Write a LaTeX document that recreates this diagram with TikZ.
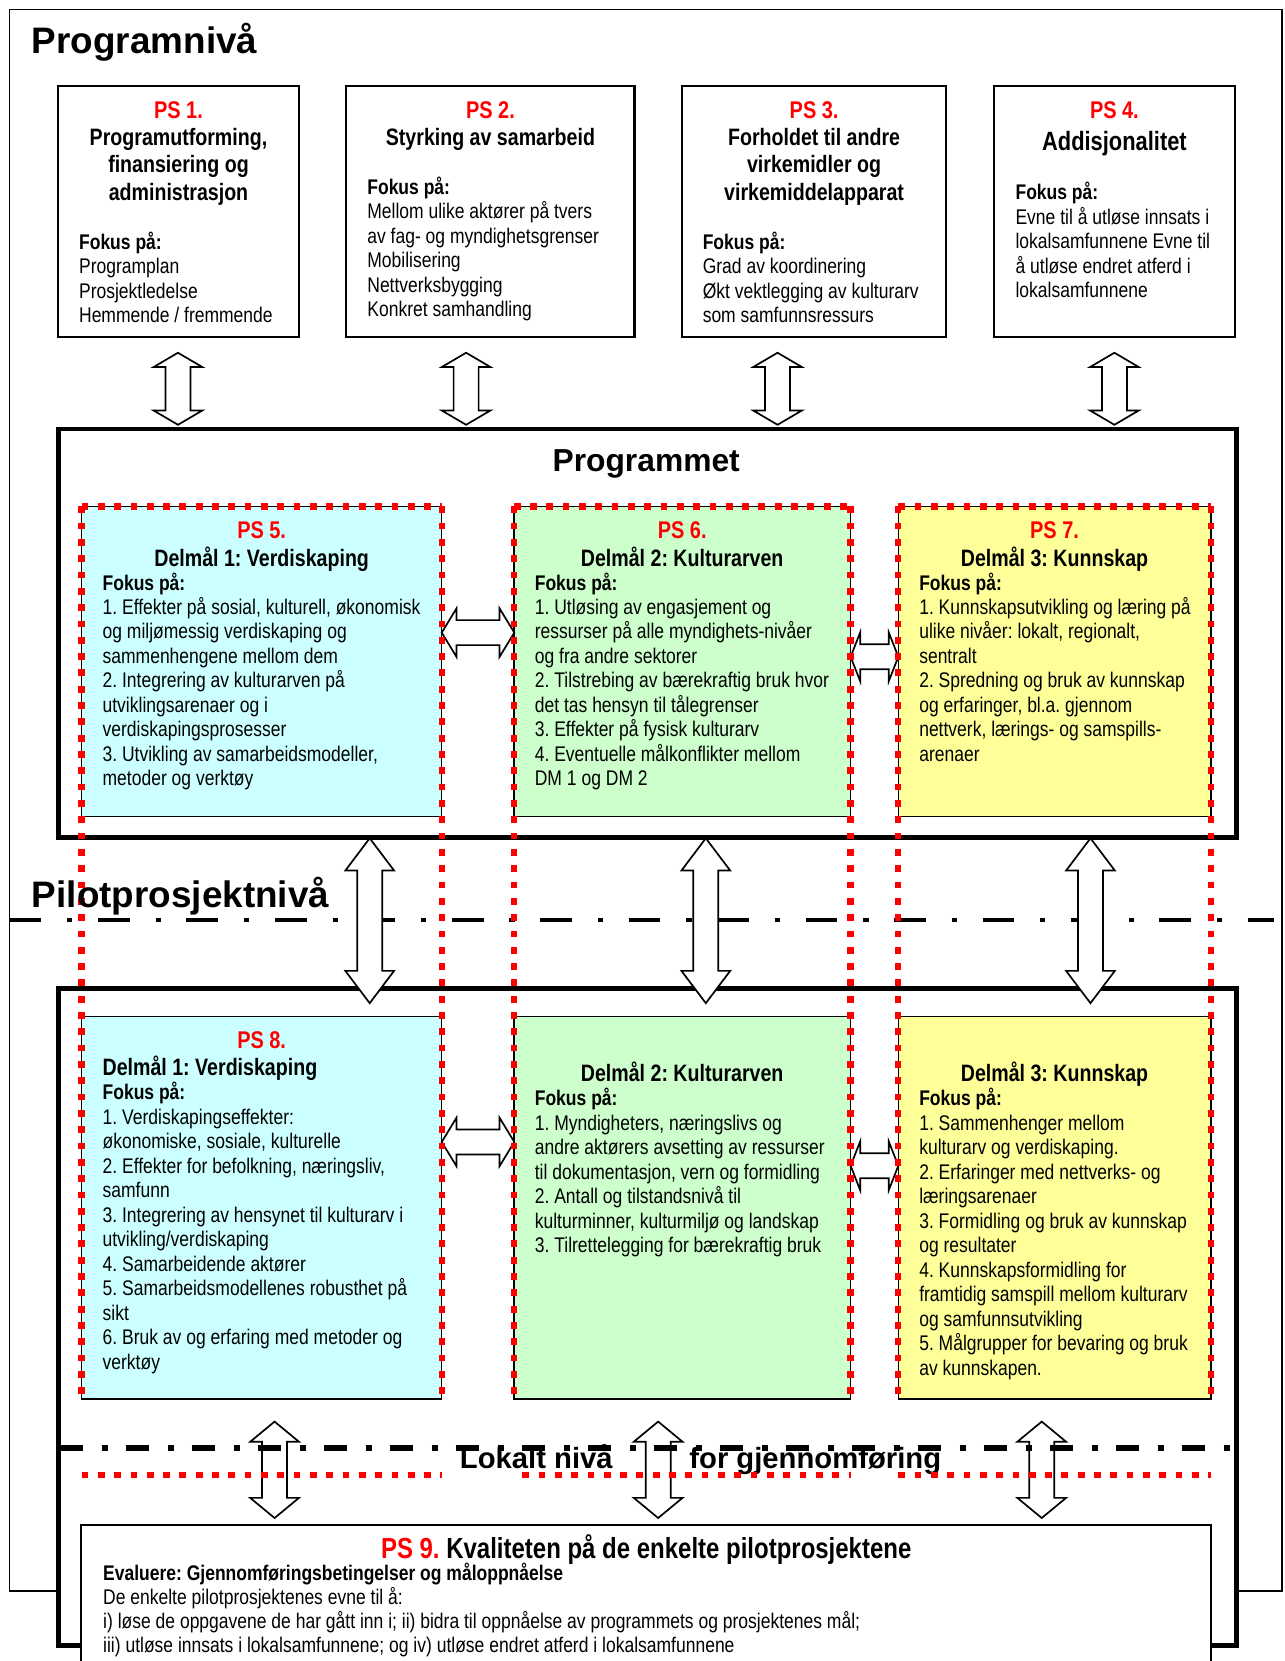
\documentclass[tikz,border=0pt]{standalone}
\usepackage{fontspec}
\setmainfont{Liberation Sans}
\newfontfamily\nar{Liberation Sans}[FakeStretch=0.826]
\usetikzlibrary{fit}
\definecolor{psred}{RGB}{255,0,0}
\definecolor{cyanbox}{RGB}{204,255,255}
\definecolor{greenbox}{RGB}{204,255,204}
\definecolor{yellowbox}{RGB}{255,255,153}
\frenchspacing
\newcommand\setspc[1]{\frenchspacing\spaceskip=#1\relax}
\tikzset{
  frame/.style={draw, line width=0.8pt, inner sep=0pt},
  topbox/.style={draw, fill=white, line width=1pt, inner sep=0pt},
  progbox/.style={draw, fill=white, line width=2.3pt, inner sep=0pt},
  colbox/.style={draw, line width=0.7pt, inner sep=0pt},
  reddash/.style={draw=psred, line width=3pt, dash pattern=on 3.2pt off 4.5pt},
  dashdotA/.style={line width=2.2pt, dash pattern=on 15pt off 12.2pt on 2.5pt off 12.05pt},
  dashdotB/.style={line width=2.7pt, dash pattern=on 11pt off 8.65pt on 2.85pt off 8.65pt},
  blockarrow/.style={draw=black, fill=white, line width=0.8pt, line join=miter},
  pslabel/.style={font=\nar\bfseries\fontsize{11.4}{12.9}\selectfont\setspc{2.6pt}, text=psred, inner sep=0pt, anchor=base},
  heading/.style={font=\nar\bfseries\fontsize{11.2}{12.9}\selectfont\setspc{2.57pt}, inner sep=0pt, anchor=base, align=flush center, text width=160pt},
  body/.style={font=\nar\fontsize{10}{11.55}\selectfont\setspc{2.3pt}, inner sep=0pt, anchor=base west, align=flush left, text width=200pt},
  bigtitle/.style={font=\bfseries\fontsize{17.4}{20}\selectfont, inner sep=0pt, anchor=base west},
}
\newcommand\vblockarrow[4]{%
  \filldraw[blockarrow] (#1,#2) -- (#1+23,#2+#4) -- (#1+11.8,#2+#4) -- (#1+11.8,#3-#4) -- (#1+23,#3-#4) -- (#1,#3) -- (#1-23,#3-#4) -- (#1-11.8,#3-#4) -- (#1-11.8,#2+#4) -- (#1-23,#2+#4) -- cycle;}
\newcommand\hblockarrow[4]{%
  \filldraw[blockarrow] (#1,#3) -- (#1+#4,#3-23) -- (#1+#4,#3-11.8) -- (#2-#4,#3-11.8) -- (#2-#4,#3-23) -- (#2,#3) -- (#2-#4,#3+23) -- (#2-#4,#3+11.8) -- (#1+#4,#3+11.8) -- (#1+#4,#3+23) -- cycle;}
\begin{document}
\begin{tikzpicture}[x=0.5pt, y=-0.5pt]
\useasboundingbox (0,0) rectangle (1213,1568);
% outer frame
\node[frame, fit={(9,9)(1210,1502)}] (outer) {};
\node[bigtitle] (tprog) at (29.8,50.3) {Programnivå};
% top boxes
\node[topbox, fit={(55,81)(282,318)}] (ps1) {};
\node[topbox, fit={(327,81)(599,318)}] (ps2) {};
\node[topbox, fit={(644,81)(893,318)}] (ps3) {};
\node[topbox, fit={(938,81)(1166,318)}] (ps4) {};
\node[pslabel] (l1) at (168.5,111.7) {PS 1.};
\node[heading] (h1) at (168.5,137.5) {Programutforming,\\ finansiering og\\ administrasjon};
\node[body] (b1) at (74.3,235.3) {\textbf{Fokus på:}\\ Programplan\\ Prosjektledelse\\ Hemmende / fremmende};
\node[pslabel] (l2) at (463,111.7) {PS 2.};
\node[heading] (h2) at (463,137.5) {Styrking av samarbeid};
\node[body] (b2) at (346.4,183.4) {\textbf{Fokus på:}\\ Mellom ulike aktører på tvers\\ av fag- og myndighetsgrenser\\ Mobilisering\\ Nettverksbygging\\ Konkret samhandling};
\node[pslabel] (l3) at (768.5,111.7) {PS 3.};
\node[heading] (h3) at (768.5,137.5) {Forholdet til andre\\ virkemidler og\\ virkemiddelapparat};
\node[body] (b3) at (663,235.3) {\textbf{Fokus på:}\\ Grad av koordinering\\ Økt vektlegging av kulturarv\\ som samfunnsressurs};
\node[pslabel] (l4) at (1052,112) {PS 4.};
\node[heading, font=\nar\bfseries\fontsize{12.5}{14}\selectfont] (h4) at (1052,142.2) {Addisjonalitet};
\node[body] (b4) at (958.3,188.8) {\textbf{Fokus på:}\\ Evne til å utløse innsats i\\ lokalsamfunnene Evne til\\ å utløse endret atferd i\\ lokalsamfunnene};
% programme box
\node[progbox, fit={(55,405)(1167,791)}] (prog) {};
\node[anchor=base, inner sep=0pt, font=\bfseries\fontsize{15}{18}\selectfont] (tprogm) at (610,445.2) {Programmet};
% top arrows
\vblockarrow{168}{333}{401}{13.5}
\vblockarrow{440}{333}{401}{13.5}
\vblockarrow{734}{333}{401}{13.5}
\vblockarrow{1052}{333}{401}{13.5}
% upper dash-dot line
\draw[dashdotA] (9,868.6) -- (1203,868.6);
% lower big box
\node[progbox, fit={(55,933)(1167,1553)}] (pilot) {};
% coloured boxes
\node[colbox, fill=cyanbox, fit={(77,478)(417,771)}] (ps5) {};
\node[colbox, fill=greenbox, fit={(485,478)(803,771)}] (ps6) {};
\node[colbox, fill=yellowbox, fit={(848,478)(1143,771)}] (ps7) {};
\node[colbox, fill=cyanbox, fit={(77,959.7)(417,1320.6)}] (ps8) {};
\node[colbox, fill=greenbox, fit={(485,959.7)(803,1320.6)}] (pk2) {};
\node[colbox, fill=yellowbox, fit={(848,959.7)(1143,1320.6)}] (pk3) {};
% middle arrows
\vblockarrow{349}{791.3}{947}{30.5}
\vblockarrow{666.3}{791.3}{947}{30.5}
\vblockarrow{1029.4}{791.3}{947}{30.5}
% horizontal arrows
\hblockarrow{417}{485.5}{597.2}{14}
\hblockarrow{803}{848}{620}{9}
\hblockarrow{417}{485.5}{1078}{14}
\hblockarrow{803}{848}{1100.5}{9}
% red dashed frames
\foreach \xl/\xr in {77/417, 485/803, 848/1143} {
  \draw[reddash] (\xl,478) -- (\xr,478);
  \draw[reddash] (\xl,478) -- (\xl,1320.6);
  \draw[reddash] (\xr,478) -- (\xr,1320.6);
}
% coloured box texts (programme level)
\node[pslabel] (l5) at (247,508.2) {PS 5.};
\node[heading] (h5) at (247,534.9) {Delmål 1: Verdiskaping};
\node[body] (b5) at (96.5,557) {\textbf{Fokus på:}\\ 1. Effekter på sosial, kulturell, økonomisk\\ og miljømessig verdiskaping og\\ sammenhengene mellom dem\\ 2. Integrering av kulturarven på\\ utviklingsarenaer og i\\ verdiskapingsprosesser\\ 3. Utvikling av samarbeidsmodeller,\\ metoder og verktøy};
\node[pslabel] (l6) at (644,508.2) {PS 6.};
\node[heading] (h6) at (644,534.9) {Delmål 2: Kulturarven};
\node[body] (b6) at (504.5,557) {\textbf{Fokus på:}\\ 1. Utløsing av engasjement og\\ ressurser på alle myndighets-nivåer\\ og fra andre sektorer\\ 2. Tilstrebing av bærekraftig bruk hvor\\ det tas hensyn til tålegrenser\\ 3. Effekter på fysisk kulturarv\\ 4. Eventuelle målkonflikter mellom\\ DM 1 og DM 2};
\node[pslabel] (l7) at (995.5,508.2) {PS 7.};
\node[heading] (h7) at (995.5,534.9) {Delmål 3: Kunnskap};
\node[body] (b7) at (867.4,557) {\textbf{Fokus på:}\\ 1. Kunnskapsutvikling og læring på\\ ulike nivåer: lokalt, regionalt,\\ sentralt\\ 2. Spredning og bruk av kunnskap\\ og erfaringer, bl.a. gjennom\\ nettverk, lærings- og samspills-\\ arenaer};
% pilot level texts
\node[bigtitle] (tpilot) at (29.8,856.5) {Pilotprosjektnivå};
\node[pslabel] (l8) at (247,989.5) {PS 8.};
\node[heading, anchor=base west, align=flush left] (h8) at (96.5,1015.7) {Delmål 1: Verdiskaping};
\node[body] (b8) at (96.5,1038.3) {\textbf{Fokus på:}\\ 1. Verdiskapingseffekter:\\ økonomiske, sosiale, kulturelle\\ 2. Effekter for befolkning, næringsliv,\\ samfunn\\ 3. Integrering av hensynet til kulturarv i\\ utvikling/verdiskaping\\ 4. Samarbeidende aktører\\ 5. Samarbeidsmodellenes robusthet på\\ sikt\\ 6. Bruk av og erfaring med metoder og\\ verktøy};
\node[heading] (hk2) at (644,1021) {Delmål 2: Kulturarven};
\node[body] (bk2) at (504.5,1044) {\textbf{Fokus på:}\\ 1. Myndigheters, næringslivs og\\ andre aktørers avsetting av ressurser\\ til dokumentasjon, vern og formidling\\ 2. Antall og tilstandsnivå til\\ kulturminner, kulturmiljø og landskap\\ 3. Tilrettelegging for bærekraftig bruk};
\node[heading] (hk3) at (995.5,1021) {Delmål 3: Kunnskap};
\node[body] (bk3) at (867.4,1044) {\textbf{Fokus på:}\\ 1. Sammenhenger mellom\\ kulturarv og verdiskaping.\\ 2. Erfaringer med nettverks- og\\ læringsarenaer\\ 3. Formidling og bruk av kunnskap\\ og resultater\\ 4. Kunnskapsformidling for\\ framtidig samspill mellom kulturarv\\ og samfunnsutvikling\\ 5. Målgrupper for bevaring og bruk\\ av kunnskapen.};
% local level
\vblockarrow{259.2}{1342}{1433}{19}
\vblockarrow{621.3}{1342}{1433}{19}
\vblockarrow{983.4}{1342}{1433}{19}
\node[anchor=base west, inner sep=0pt, font=\bfseries\fontsize{13.8}{16}\selectfont] (lok1) at (433.8,1386) {Lokalt nivå};
\node[anchor=base west, inner sep=0pt, font=\bfseries\fontsize{13.8}{16}\selectfont] (lok2) at (650.4,1386) {for gjennomføring};
\draw[dashdotB] (56.6,1367) -- (1161,1367);
\draw[reddash] (77,1392.3) -- (417,1392.3);
\draw[reddash] (493,1392.3) -- (803,1392.3);
\draw[reddash] (848,1392.3) -- (1143,1392.3);
% PS 9 box
\node[fill=white, inner sep=0pt, fit={(77,1440)(1143,1568)}] (ps9) {};
\draw[line width=0.8pt] (ps9.south west) -- (ps9.north west) -- (ps9.north east) -- (ps9.south east);
\node[anchor=base, inner sep=0pt, font=\nar\bfseries\fontsize{13.7}{16}\selectfont\setspc{3.15pt}] (h9) at (610,1471) {\textcolor{psred}{PS 9.} Kvaliteten på de enkelte pilotprosjektene};
\node[body, text width=500pt, font=\nar\fontsize{10}{11.4}\selectfont\setspc{2.3pt}] (b9) at (97,1492) {\textbf{Evaluere: Gjennomføringsbetingelser og måloppnåelse}\\ De enkelte pilotprosjektenes evne til å:\\ i) løse de oppgavene de har gått inn i; ii) bidra til oppnåelse av programmets og prosjektenes mål;\\ iii) utløse innsats i lokalsamfunnene; og iv) utløse endret atferd i lokalsamfunnene};
\end{tikzpicture}
\end{document}
